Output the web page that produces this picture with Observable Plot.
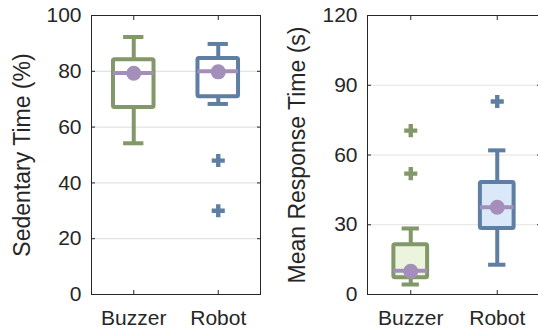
<!DOCTYPE html>
<html>
<head>
<meta charset="utf-8">
<script src="https://cdn.jsdelivr.net/npm/d3@7"></script>
<script src="https://cdn.jsdelivr.net/npm/@observablehq/plot@0.6"></script>
<style>
  html, body { margin: 0; padding: 0; background: #fff; overflow: hidden; }
  #wrap { display: flex; width: 540px; height: 333px; }
  #wrap svg { display: block; flex: none; }
</style>
</head>
<body>
<div id="wrap"></div>
<script>
// ---- data ----
const categories = ["Buzzer", "Robot"];

// Panel 1: Sedentary Time (%)
const sedLabel = "Sedentary Time (%)";
const sedTicks = [0, 20, 40, 60, 80, 100];
const sedLow = [54.2, 68.3];
const sedQ1 = [67, 70.9];
const sedMedian = [79.4, 80];
const sedMean = [79.3, 79.8];
const sedQ3 = [84.1, 84.6];
const sedHigh = [92.3, 89.8];
const sedOutliers = [[], [48, 30]];

// Panel 2: Mean Response Time (s)
const respLabel = "Mean Response Time (s)";
const respTicks = [0, 30, 60, 90, 120];
const respLow = [4.3, 12.8];
const respQ1 = [7.2, 28.4];
const respMedian = [10.2, 37.5];
const respMean = [10, 37.5];
const respQ3 = [21.4, 48.2];
const respHigh = [28.4, 62];
const respOutliers = [[70.5, 52], [83]];

// ---- styles ----
const strokeColors = ["#829868", "#5e7ea3"];
const purple = "#a38fba";
const font = "'Liberation Sans', Arial, sans-serif";

function buildStats(low, q1, med, mean, q3, high, outs) {
  return categories.map((c, i) => ({
    cat: c, i: i + 1, low: low[i], q1: q1[i], med: med[i], mean: mean[i],
    q3: q3[i], high: high[i]
  }));
}
function buildOutliers(outs) {
  const rows = [];
  outs.forEach((arr, i) => arr.forEach(v => rows.push({i: i + 1, v})));
  return rows;
}

function panel({stats, outliers, ticks, label, yMax, width, marginLeft, marginRight, boxHalf, capHalf, fills, labelOffset}) {
  return Plot.plot({
    width, height: 333,
    marginLeft, marginRight, marginTop: 15, marginBottom: 39,
    style: {fontFamily: font, fontSize: "21px", color: "#262626", background: "#fff", overflow: "visible"},
    x: {domain: [0.5, 2.5], axis: null},
    y: {domain: [0, yMax], axis: null},
    marks: [
      Plot.gridY(ticks, {stroke: "#e3e3e3", strokeOpacity: 1, strokeWidth: 1.2}),
      // whiskers
      Plot.ruleX(stats, {x: "i", y1: "q3", y2: "high", stroke: (d) => strokeColors[d.i - 1], strokeWidth: 4}),
      Plot.ruleX(stats, {x: "i", y1: "low", y2: "q1", stroke: (d) => strokeColors[d.i - 1], strokeWidth: 4}),
      // caps
      Plot.ruleY(stats, {y: "high", x1: d => d.i - capHalf, x2: d => d.i + capHalf, stroke: (d) => strokeColors[d.i - 1], strokeWidth: 4}),
      Plot.ruleY(stats, {y: "low", x1: d => d.i - capHalf, x2: d => d.i + capHalf, stroke: (d) => strokeColors[d.i - 1], strokeWidth: 4}),
      // boxes
      Plot.rect(stats, {x1: d => d.i - boxHalf, x2: d => d.i + boxHalf, y1: "q1", y2: "q3",
        fill: d => fills[d.i - 1], stroke: d => strokeColors[d.i - 1], strokeWidth: 4, rx: 1.5}),
      // medians
      Plot.ruleY(stats, {y: "med", x1: d => d.i - boxHalf, x2: d => d.i + boxHalf, stroke: purple, strokeWidth: 4}),
      // means
      Plot.dot(stats, {x: "i", y: "mean", r: 7.5, fill: purple, stroke: "none"}),
      // outliers
      Plot.dot(outliers, {x: "i", y: "v", symbol: "cross", r: 5.5, fill: d => strokeColors[d.i - 1], stroke: "none"}),
      // frame
      Plot.frame({stroke: "#262626", strokeWidth: 1}),
      // inward ticks
      Plot.axisY(ticks, {anchor: "left", tickSize: 4, dx: 4, tickFormat: () => "", label: null, stroke: "#262626"}),
      Plot.axisY(ticks, {anchor: "right", tickSize: 4, dx: -4, tickFormat: () => "", label: null, stroke: "#262626"}),
      Plot.axisX([1, 2], {anchor: "bottom", tickSize: 4, dy: -4, tickFormat: () => "", label: null, stroke: "#262626"}),
      Plot.axisX([1, 2], {anchor: "top", tickSize: 4, dy: 4, tickFormat: () => "", label: null, stroke: "#262626"}),
      // labels
      Plot.axisY(ticks, {anchor: "left", tickSize: 0, tickPadding: 10, label: null, fill: "#262626", fontSize: 21}),
      Plot.axisY({anchor: "left", ticks: [], tickSize: 0, label, labelAnchor: "center", labelOffset, labelArrow: "none", fontSize: 23, fill: "#262626"}),
      Plot.axisX([1, 2], {anchor: "bottom", tickSize: 0, tickPadding: 16, tickFormat: d => categories[d - 1], label: null, fill: "#262626", fontSize: 21})
    ]
  });
}

const wrap = document.getElementById("wrap");
wrap.append(panel({
  stats: buildStats(sedLow, sedQ1, sedMedian, sedMean, sedQ3, sedHigh),
  outliers: buildOutliers(sedOutliers),
  ticks: sedTicks, label: sedLabel, yMax: 100,
  width: 270, marginLeft: 91, marginRight: 10,
  boxHalf: 0.24, capHalf: 0.12, fills: ["#ffffff", "#ffffff"], labelOffset: 78
}));
wrap.append(panel({
  stats: buildStats(respLow, respQ1, respMedian, respMean, respQ3, respHigh),
  outliers: buildOutliers(respOutliers),
  ticks: respTicks, label: respLabel, yMax: 120,
  width: 270, marginLeft: 97, marginRight: 0,
  boxHalf: 0.195, capHalf: 0.1, fills: ["#edf4de", "#dbe8fa"], labelOffset: 79
}));
</script>
</body>
</html>
